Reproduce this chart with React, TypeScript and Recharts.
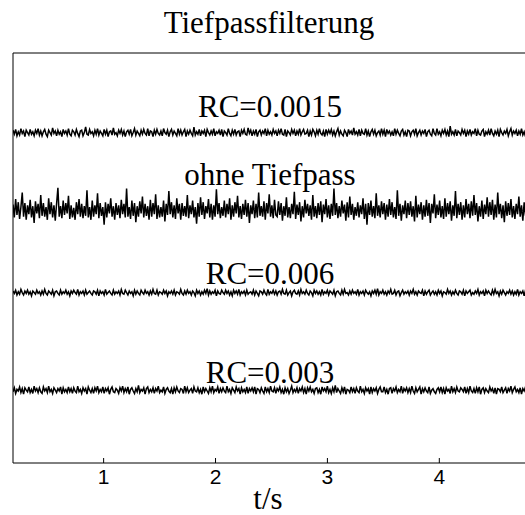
import { LineChart, Line, XAxis, YAxis } from 'recharts';

// sample grid of the time axis (seconds)
const T_START = 0.19;
const T_END = 4.9;
const X_TICKS = [1, 2, 3, 4];
const Y_TICKS = [0, 1, 2, 3, 4, 5];

// trace labels and their vertical offsets
const LABELS = ['RC=0.0015', 'ohne Tiefpass', 'RC=0.006', 'RC=0.003'];
const OFFSETS = [4.03, 3.06, 2.03, 0.81];

// noise around each offset, in hundredths of a y unit
const rc0015 = [
  3, -2, 4, -4, 1, -3, 5, -1, 2, -5, 3, 0, -3, 4, -2, 1, -4, 3, -1, 5,
  -3, 2, -4, 1, 4, -2, -5, 3, 0, -3, 6, -1, 2, -4, 3, -2, 1, -5, 4, -1,
  2, -3, 5, -2, -4, 3, 1, -3, 4, -1, -5, 2, 3, -4, 0, 7, -2, -3, 4, -1,
  1, -4, 3, -2, 5, -3, 2, -1, -4, 4, -2, 3, -5, 1, 2, -3, 6, -2, 0, -4,
  3, -1, 4, -3, 2, -5, 1, 3, -2, 4, -4, 0, 5, -3, 2, -1, -4, 3, -2, 4,
  -1, -3, 5, -4, 2, 1, -5, 3, -2, 4, -1, -3, 2, -4, 5, 0, -2, 3, -5, 1,
  4, -3, 2, -1, -4, 5, -2, 3, -3, 1, 4, -5, 2, -2, 3, -1, -4, 7, -3, 1,
  -2, 4, -4, 2, -1, 3, -5, 4, 0, -3, 2, -2, 5, -4, 1, -1, 3, -3, 4, -5,
  2, 0, -3, 5, -1, -4, 3, -2, 4, -3, 1, 2, -5, 3, -1, 4, -2, -3, 6, -1,
  3, -4, 2, -2, 4, -5, 1, 3, -3, 2, -1, 5, -4, 3, -2, 1, -3, 4, -1, 2,
  -4, 3, -1, 5, -2, -3, 4, -5, 2, 0, -3, 4, -1, 3, -4, 2, -2, 5, -3, 1,
  4, -2, -1, 3, -5, 2, -3, 4, 1, -4, 3, -2, 5, -1, -3, 2, -5, 4, -2, 3,
  -1, 4, -3, 2, -4, 1, 5, -3, 2, -2, -4, 3, 0, -5, 4, -1, 2, -3, 6, -2,
  1, -3, 4, -4, 3, -1, -2, 5, -3, 2, -5, 1, 4, -2, 3, -4, 0, 2, -3, 5,
  -2, 3, -5, 4, -1, 2, -3, 1, -4, 5, -2, 3, -1, -4, 2, 4, -3, 1, -5, 3,
  2, -4, 1, 3, -2, 5, -4, 0, 3, -3, 2, -1, 4, -5, 1, 3, -2, -4, 5, -1,
  -3, 5, -2, 1, -4, 3, -1, 4, -3, 2, -5, 8, -2, 1, -3, 4, -4, 2, 0, -3,
  4, -1, 3, -5, 2, -2, 4, -3, 1, -1, 5, -4, 3, -2, -3, 2, 4, -5, 1, -2,
  3, -3, 5, -1, -4, 2, -2, 3, -5, 4, 0, -3, 2, -1, 4, -4, 1, 5, -3, 2,
  -1, 3, -4, 2, -2, 5, -3, 1, -5, 3, -1, 4, -2, 2, -4, 3, -3, 1, 4, -2,
];
const ohne = [
  7, -9, 14, -6, 10, -11, 4, 22, -8, 9, -12, 6, -5, 13, -9, 5, -16, 11, -4, 8,
  -10, 19, -7, 9, -8, 4, -12, 15, -5, 10, -9, 6, -13, 8, 28, -8, 5, -10, 12, -6,
  9, -4, 18, -11, 6, -9, 3, -12, 10, -5, 14, -8, 8, -10, 5, -7, 25, -9, 4, -12,
  12, -8, 6, -5, 21, -10, 9, -7, 4, -18, 10, -9, 8, -4, 15, -8, 5, -12, 9, -6,
  6, -10, 13, -5, 8, -9, 27, -8, 4, -11, 12, -7, 9, -15, 5, -8, 11, -4, 17, -9,
  8, -7, 5, -12, 13, -8, 9, -5, 20, -11, 6, -9, 4, -8, 12, -14, 8, -6, 24, -5,
  10, -9, 6, -11, 15, -4, 8, -12, 9, -7, 5, -8, 19, -10, 6, -5, 12, -9, 4, -17,
  9, -8, 16, -6, 10, -11, 5, -4, 14, -9, 8, -12, 6, -8, 26, -5, 9, -10, 4, -7,
  12, -9, 8, -5, 15, -12, 6, -8, 10, -4, 18, -9, 5, -11, 8, -6, 13, -8, 9, -16,
  6, -5, 12, -10, 8, -9, 22, -7, 5, -8, 11, -12, 9, -4, 20, -8, 6, -10, 13, -6,
  -8, 11, -6, 9, -13, 5, -7, 16, -9, 4, -10, 8, -5, 23, -11, 7, -6, 10, -14, 5,
  -9, 13, -4, 8, -7, 6, -12, 19, -8, 5, -10, 9, -6, 11, -15, 7, -5, 14, -9, 6,
  -11, 8, -7, 27, -6, 9, -10, 5, -8, 12, -4, 7, -13, 10, -9, 17, -6, 8, -12, 4,
  -7, 10, -9, 6, -5, 15, -11, 8, -18, 9, -6, 12, -8, 5, -10, 21, -7, 6, -9, 11,
  -5, 9, -12, 7, -8, 14, -6, 10, -9, 4, -11, 25, -7, 8, -13, 6, -5, 12, -10, 9,
  -6, 11, -8, 5, -14, 18, -9, 7, -5, 10, -12, 6, -8, 13, -7, 9, -16, 8, -4, 20,
  -10, 7, -6, 12, -9, 5, -11, 15, -8, 9, -5, 11, -13, 6, -7, 24, -10, 8, -6, 10,
  -12, 6, -9, 14, -5, 8, -10, 11, -7, 19, -6, 9, -14, 5, -8, 12, -11, 7, -5, 16,
  -8, 10, -6, 13, -12, 7, -9, 22, -5, 8, -10, 6, -15, 11, -7, 9, -6, 14, -9, 5,
  -11, 8, -5, 17, -8, 6, -13, 10, -7, 12, -9, 5, -10, 26, -6, 9, -12, 7, -8, 11,
];
const rc006 = [
  2, -1, 3, -3, 1, -2, 4, 0, -3, 2, -1, 3, -2, 1, -4, 2, 0, -2, 3, -1,
  1, -3, 2, -2, 4, -1, -3, 2, 0, -2, 3, -4, 1, 2, -1, -3, 3, -2, 1, -1,
  3, -2, 1, -4, 2, -1, 3, 0, -2, 4, -3, 1, -1, 2, -3, 3, -2, 0, 2, -1,
  -3, 2, 1, -2, 3, -4, 2, -1, 1, -3, 4, -2, 0, 2, -1, -3, 3, -2, 1, -1,
  2, -3, 4, -1, -2, 3, 0, -3, 2, -1, 1, -4, 3, -2, 2, -1, -3, 3, 0, -2,
  3, -1, 1, -3, 2, -2, 4, -1, -2, 3, -3, 1, 0, -2, 3, -1, 2, -4, 1, -1,
  2, -2, 3, -3, 1, 0, -2, 4, -1, -3, 2, -2, 3, -1, 1, -3, 2, 0, -4, 3,
  -1, 2, -3, 1, -2, 3, -1, 5, -3, 2, -2, 1, -1, 3, -4, 2, -1, -2, 3, 0,
  -2, 3, -1, 2, -3, 1, -4, 3, -1, 2, -2, 4, -3, 1, -1, 2, -3, 3, -2, 0,
  1, -2, 3, -3, 2, -1, -4, 2, 1, -2, 3, -1, -3, 4, -2, 1, -1, 3, -2, 2,
  -3, 1, 2, -2, 4, -1, -2, 3, -3, 0, 2, -4, 1, 3, -1, -2, 2, -3, 4, -1,
  1, -2, 3, -1, -3, 2, 0, -4, 3, -1, 2, -2, 1, -3, 4, -2, 1, -1, 3, -3,
  2, 0, -2, 3, -4, 1, 2, -1, -3, 3, -2, 4, -1, 0, -3, 2, -2, 3, -1, 1,
  -2, 4, -3, 1, -1, 2, -3, 3, 0, -2, 1, -4, 2, -1, 3, -2, 5, -3, 1, -1,
  3, -2, 1, -3, 2, -1, 4, -2, -1, 3, -3, 1, 2, -4, 0, 3, -2, 1, -1, 2,
  -3, 2, -1, 4, -2, 1, -3, 2, 0, -1, 3, -4, 2, -2, 1, 3, -3, 0, 2, -2,
  1, -3, 3, -1, 2, -4, 1, 0, -2, 4, -1, 2, -3, 1, -2, 3, -1, -3, 2, 1,
  -2, 3, -4, 2, -1, 1, 3, -3, 0, -2, 2, -1, 4, -3, 1, -1, 2, -4, 3, -1,
  2, -1, -3, 3, -2, 4, -1, 1, -4, 2, -2, 3, 0, -3, 1, -1, 3, -2, 2, -3,
  1, -2, 4, -3, 1, -1, 2, -4, 3, -1, 0, 2, -3, 1, -2, 3, -1, 2, -3, 1,
];
const rc003 = [
  -2, 3, -4, 1, -1, 4, -3, 2, -5, 3, 0, -2, 4, -3, 1, -4, 5, -1, 2, -3,
  3, -2, -4, 4, -1, 2, -3, 5, -2, 1, -4, 3, 0, -3, 2, -1, 4, -5, 3, -2,
  1, -3, 4, -2, 2, -4, 3, -1, -3, 5, -2, 1, -4, 3, -1, 2, -5, 4, 0, -3,
  2, -4, 3, -1, 5, -3, 1, -2, 4, -4, 2, -1, 3, -5, 1, 4, -2, -3, 2, 0,
  -4, 3, -1, 5, -3, 2, -2, 4, -5, 1, 3, -1, -4, 2, -2, 6, -3, 1, -1, 3,
  -5, 2, 4, -3, 1, -2, 3, -4, 2, -1, 5, -3, 0, -2, 4, -4, 1, 3, -1, -3,
  2, -5, 3, -2, 4, -1, -3, 2, 1, -4, 5, -2, 3, -3, 0, 2, -4, 4, -1, -2,
  3, -3, 1, -5, 4, -2, 2, -1, -4, 3, -2, 5, -3, 1, -1, 4, -4, 2, -2, 3,
  -1, -3, 5, -2, 1, -4, 3, 0, -3, 4, -1, 2, -5, 3, -2, 1, -3, 4, -4, 2,
  -1, 3, -2, 4, -5, 2, 1, -3, 3, -1, -4, 4, -2, 2, -3, 5, -1, -2, 3, -4,
  2, -1, 4, -3, 1, -5, 3, -2, 2, -4, 0, 5, -3, 1, -2, 3, -4, 2, -1, 4,
  -3, 2, -5, 3, -1, 4, -2, 1, -4, 2, 3, -3, 1, -5, 4, -1, 2, -2, 5, -3,
  1, -4, 3, -2, 6, -3, 2, -1, -4, 3, -2, 4, -5, 1, 0, -3, 4, -2, 2, -4,
  3, -1, -3, 5, -2, 1, -4, 3, -1, 2, -5, 4, -3, 2, -1, 3, -4, 1, 4, -2,
  -2, 4, -3, 1, -5, 2, 3, -4, 2, -1, 4, -3, 1, -2, 5, -4, 2, -1, 3, -3,
  2, -3, 5, -1, -4, 3, -2, 1, 4, -5, 2, -2, 3, -1, -3, 4, -4, 0, 2, -2,
  -4, 1, 3, -2, 4, -3, 2, -5, 3, -1, 1, -4, 5, -2, 2, -3, 4, -1, -2, 3,
  1, -2, 4, -4, 2, -3, 5, -1, -3, 2, -4, 3, -2, 4, -5, 1, 3, -3, 2, -1,
  -3, 4, -1, 2, -4, 3, -5, 2, 1, -2, 4, -3, 0, 3, -4, 2, -1, 5, -3, 1,
  4, -2, 1, -3, 3, -5, 2, -1, 4, -4, 3, -2, 1, -3, 5, -2, 2, -4, 3, -1,
];

const SERIES = [rc0015, ohne, rc006, rc003];
const KEYS = ['a', 'b', 'c', 'd'];

// use the common length so no row gets an undefined value
const N = Math.min(...SERIES.map((s) => s.length));
const data = Array.from({ length: N }, (_, i) => {
  const row: Record<string, number> = { t: T_START + (i * (T_END - T_START)) / (N - 1) };
  SERIES.forEach((s, k) => {
    row[KEYS[k]] = OFFSETS[k] + s[i] / 100;
  });
  return row;
});

const serif = '"Liberation Serif", "Times New Roman", serif';
const sans = '"Liberation Sans", Arial, sans-serif';

// label baselines in page pixels
const LABEL_Y = [117, 185, 284, 383];

export default function App() {
  return (
    <div style={{ position: 'absolute', left: 0, top: 0, width: 525, height: 515, overflow: 'hidden', background: '#fff' }}>
      <LineChart
        width={620}
        height={515}
        data={data}
        margin={{ top: 52, right: 80, bottom: 22, left: 12 }}
      >
        <XAxis
          dataKey="t"
          type="number"
          domain={[T_START, T_END]}
          ticks={X_TICKS}
          allowDataOverflow
          height={30}
          stroke="#000"
          tickSize={-5}
          tickMargin={11}
          tick={{ fill: '#000', fontSize: 21, fontFamily: sans }}
        />
        <XAxis
          xAxisId="top"
          orientation="top"
          dataKey="t"
          type="number"
          domain={[T_START, T_END]}
          ticks={X_TICKS}
          allowDataOverflow
          height={1}
          stroke="#000"
          tickSize={-5}
          tick={false}
        />
        <YAxis
          type="number"
          domain={[-0.1, 5.025]}
          ticks={Y_TICKS}
          allowDataOverflow
          width={1}
          stroke="#000"
          tickSize={-5}
          tick={false}
        />
        {KEYS.map((k) => (
          <Line
            key={k}
            dataKey={k}
            stroke="#000"
            strokeWidth={1.5}
            dot={false}
            isAnimationActive={false}
          />
        ))}
      </LineChart>
      <svg
        width={525}
        height={515}
        style={{ position: 'absolute', left: 0, top: 0, pointerEvents: 'none' }}
      >
        <text x={269} y={33} textAnchor="middle" fontFamily={serif} fontSize={31} fill="#000">
          Tiefpassfilterung
        </text>
        {LABELS.map((l, i) => (
          <text key={l} x={270} y={LABEL_Y[i]} textAnchor="middle" fontFamily={serif} fontSize={31} fill="#000">
            {l}
          </text>
        ))}
        <text x={268} y={509} textAnchor="middle" fontFamily={serif} fontSize={31} fill="#000">
          t/s
        </text>
      </svg>
    </div>
  );
}
